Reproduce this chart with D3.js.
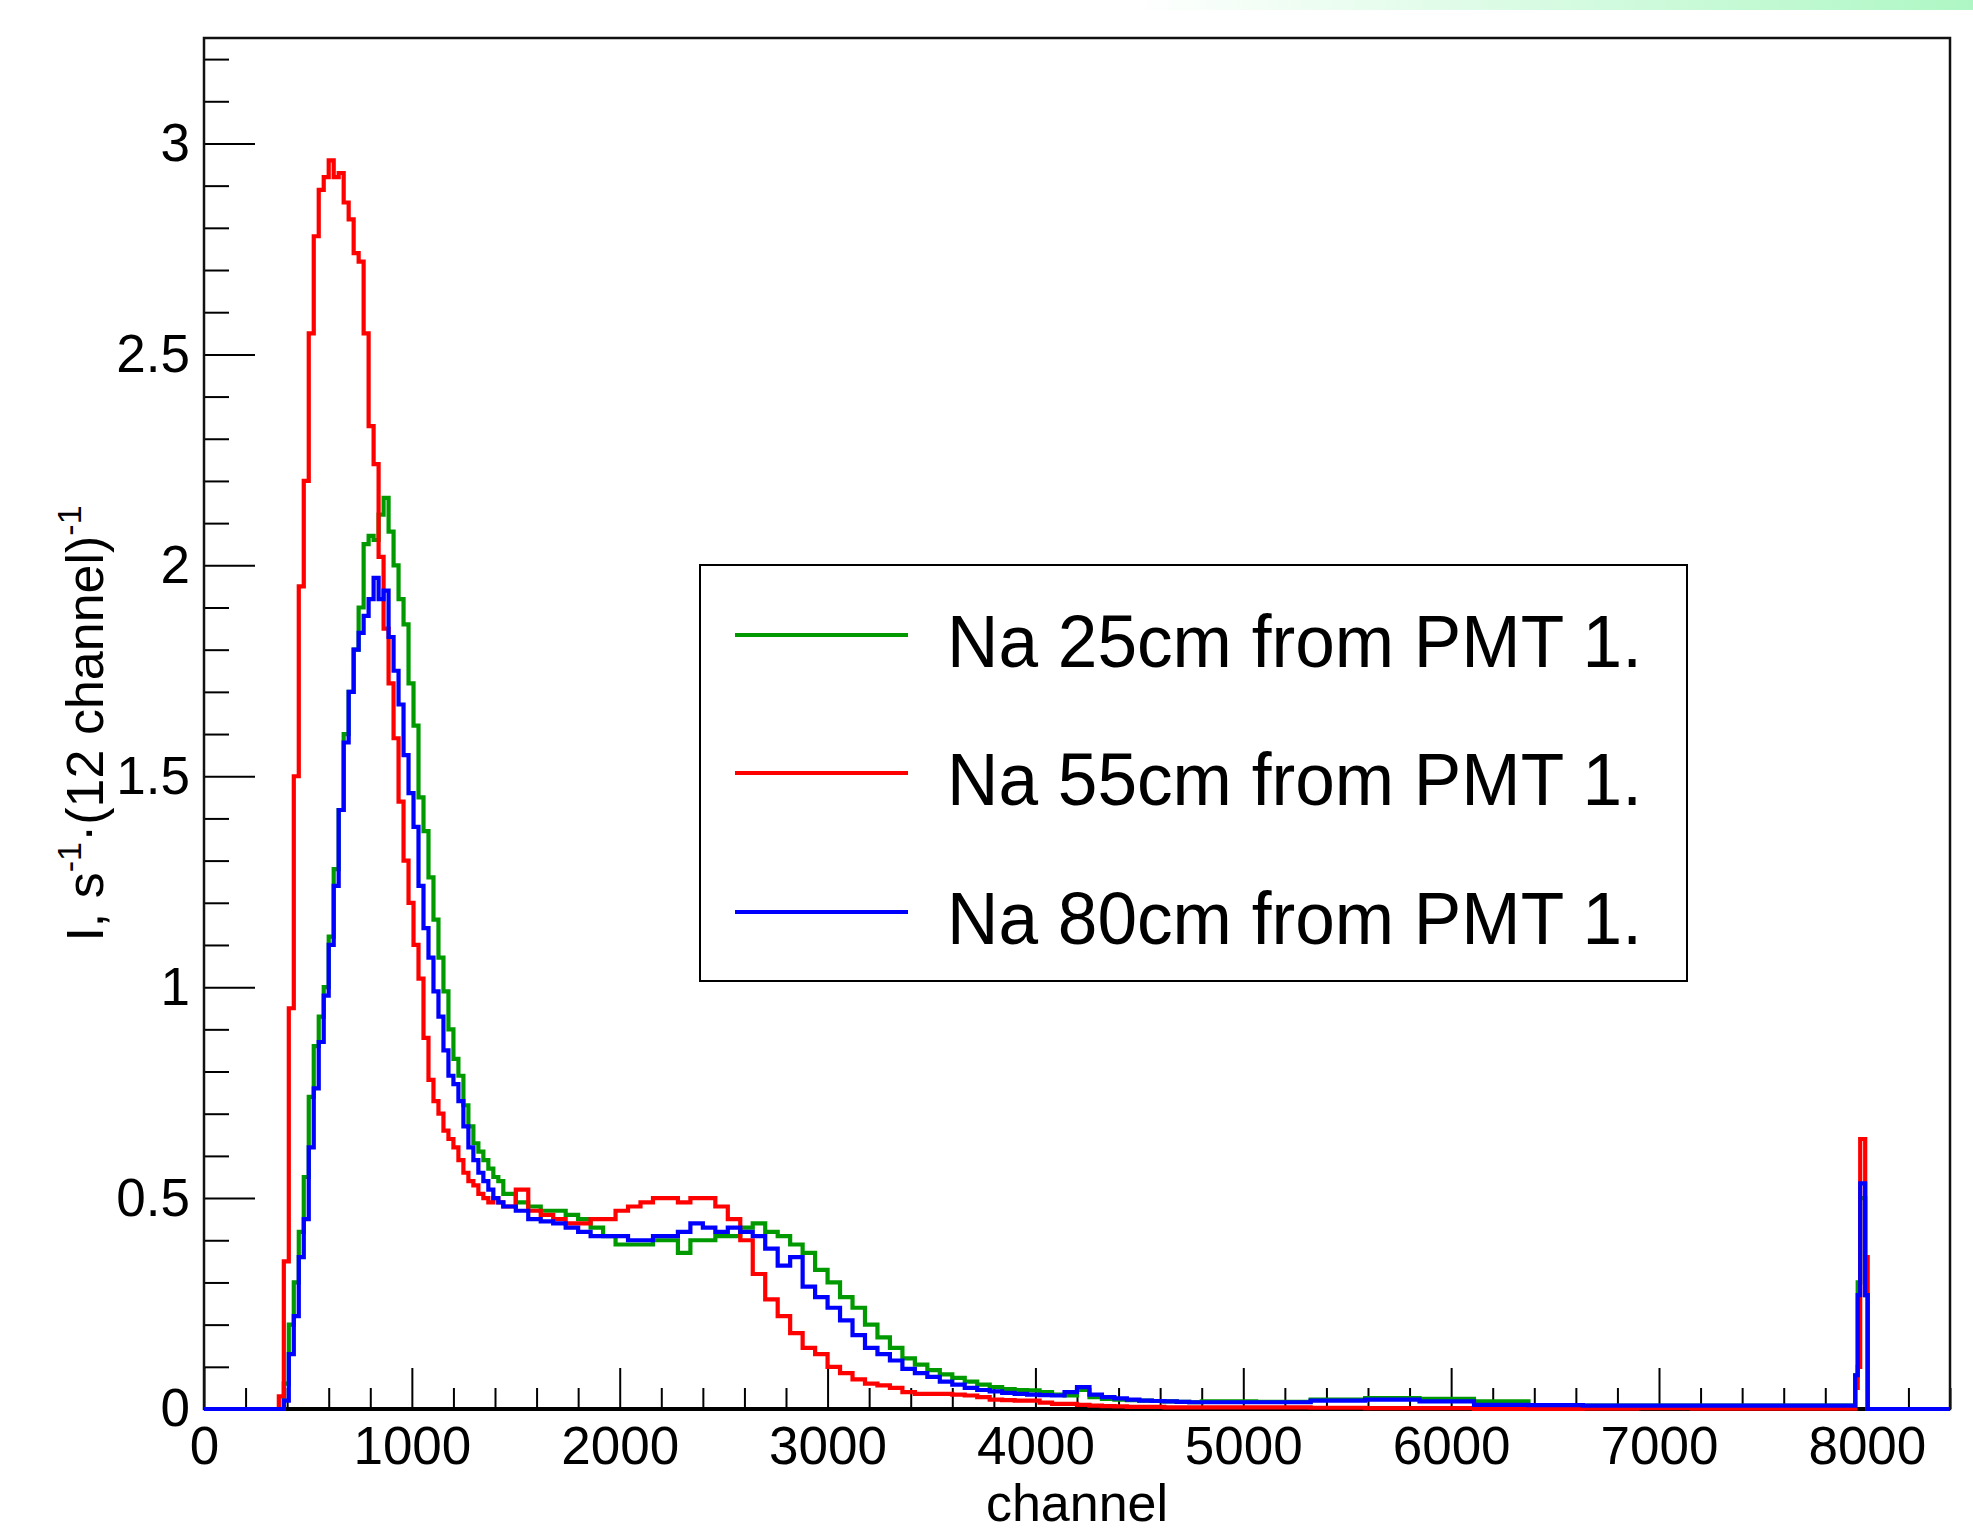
<!DOCTYPE html>
<html><head><meta charset="utf-8">
<script src="https://cdn.jsdelivr.net/npm/d3@7"></script>
<style>
html,body{margin:0;padding:0;background:#fff;}
svg{display:block;}
text{font-family:"Liberation Sans",Arial,Helvetica,sans-serif;}
</style>
</head><body>
<svg id="c" width="1973" height="1531"></svg>
<script>
// ---- DATA ----
// histogram bin layout: [start channel, end channel, bin width]
const binSegments = [[0,360,360],[360,1440,24],[1440,4800,60],[4800,7944,262],[7944,8016,12],[8016,8400,384]];

const seriesNames = ["Na 25cm from PMT 1.","Na 55cm from PMT 1.","Na 80cm from PMT 1."];
const seriesColors = ["#009a00","#ff0000","#0000ff"];

// values per bin (I, s^-1 (12 channel)^-1)
const green = [0,
 0,0.06,0.2,0.3,0.42,0.55,0.74,0.86,0.93,1.0,1.12,1.28,1.42,1.6,1.7,1.8,1.9,2.05,2.07,2.06,2.12,2.16,2.08,2.0,1.92,1.86,1.72,1.62,1.45,1.37,1.26,1.16,1.07,0.99,0.9,0.83,0.79,0.72,0.67,0.63,0.61,0.59,0.57,0.55,0.54,
 0.51,0.49,0.48,0.47,0.47,0.46,0.45,0.43,0.41,0.39, 0.39,0.39,0.40,0.40,0.37,0.40,0.40,0.41,0.41,0.43, 0.44,0.42,0.41,0.39,0.37,0.33,0.30,0.265,0.24,0.20, 0.17,0.145,0.12,0.105,0.092,0.082,0.074,0.065,0.058,0.052, 0.047,0.045,0.044,0.04,0.034,0.032,0.045,0.028,0.024,0.022, 0.021,0.02,0.019,0.018,0.017,0.016,
 0.018,0.017,0.022,0.026,0.024,0.018,0.009,0.008,0.008,0.008,0.008,0.008,
 0.08,0.30,0.50,0.50,0.27,0,
 0];
const red = [0,
 0.03,0.35,0.95,1.5,1.95,2.2,2.55,2.78,2.89,2.92,2.96,2.92,2.93,2.86,2.82,2.74,2.72,2.55,2.33,2.24,2.02,1.85,1.72,1.59,1.44,1.30,1.20,1.10,1.02,0.88,0.78,0.73,0.70,0.66,0.64,0.62,0.59,0.56,0.54,0.53,0.51,0.50,0.49,0.50,0.49,
 0.48,0.52,0.47,0.46,0.45,0.44,0.44,0.45,0.45,0.47, 0.48,0.49,0.50,0.50,0.49,0.50,0.50,0.48,0.45,0.40, 0.32,0.26,0.22,0.18,0.145,0.13,0.10,0.085,0.07,0.06, 0.056,0.05,0.04,0.036,0.036,0.036,0.034,0.032,0.028,0.022, 0.021,0.02,0.02,0.015,0.012,0.012,0.01,0.008,0.007,0.006, 0.005,0.005,0.005,0.004,0.004,0.004,
 0.004,0.004,0.003,0.002,0.002,0,0,0.001,0.002,0.001,0.001,0.001,
 0.05,0.10,0.64,0.64,0.36,0,
 0];
const blue = [0,
 0,0.02,0.13,0.22,0.36,0.45,0.62,0.76,0.87,0.98,1.10,1.24,1.42,1.58,1.70,1.80,1.84,1.88,1.92,1.97,1.92,1.94,1.83,1.75,1.67,1.55,1.46,1.38,1.24,1.14,1.07,0.99,0.93,0.85,0.79,0.77,0.73,0.67,0.62,0.59,0.56,0.54,0.52,0.50,0.49,
 0.48,0.47,0.45,0.445,0.44,0.43,0.42,0.41,0.41,0.41, 0.40,0.40,0.41,0.41,0.42,0.44,0.43,0.42,0.43,0.42, 0.41,0.38,0.34,0.36,0.29,0.265,0.24,0.21,0.175,0.145, 0.13,0.115,0.095,0.085,0.076,0.065,0.058,0.05,0.045,0.042, 0.038,0.036,0.034,0.033,0.032,0.04,0.052,0.034,0.028,0.025, 0.022,0.02,0.019,0.018,0.017,0.016,
 0.016,0.016,0.02,0.022,0.018,0.01,0.009,0.008,0.008,0.008,0.008,0.008,
 0.08,0.27,0.535,0.535,0.27,0,
 0];

const xTickValues = [0,1000,2000,3000,4000,5000,6000,7000,8000];
const xTickLabels = ["0","1000","2000","3000","4000","5000","6000","7000","8000"];
const yTickValues = [0,0.5,1,1.5,2,2.5,3];
const yTickLabels = ["0","0.5","1","1.5","2","2.5","3"];
const xDomain = [0,8400];
const yDomain = [0,3.25];

// ---- LAYOUT ----
const L=204, R=1950, T=38, B=1409;
const svg = d3.select("#c");

// top gradient strip
const defs = svg.append("defs");
const grad = defs.append("linearGradient").attr("id","topg").attr("x1","0").attr("x2","1").attr("y1","0").attr("y2","0");
grad.append("stop").attr("offset","0").attr("stop-color","#ffffff");
grad.append("stop").attr("offset","1").attr("stop-color","#aef7c4");
svg.append("rect").attr("x",1130).attr("y",0).attr("width",843).attr("height",10).attr("fill","url(#topg)");

defs.append("clipPath").attr("id","clip").append("rect").attr("x",L).attr("y",T).attr("width",R-L).attr("height",B-T+6);

const x = d3.scaleLinear().domain(xDomain).range([L,R]);
const y = d3.scaleLinear().domain(yDomain).range([B,T]);

// edges
let edges=[];
binSegments.forEach(s=>{ edges = edges.concat(d3.range(s[0],s[1],s[2])); });
edges.push(xDomain[1]);

// minor ticks
const yMinor = d3.range(0,3.25,0.1).filter(v=>Math.abs(v*2-Math.round(v*2))>1e-6);
const xMinor = d3.range(0,8401,200).filter(v=>v%1000!==0);

const fontTick = 53;

// y axis
const gyMinor = svg.append("g").attr("transform",`translate(${L},0)`)
  .call(d3.axisLeft(y).tickValues(yMinor).tickSize(-25).tickFormat(""));
const gy = svg.append("g").attr("transform",`translate(${L},0)`)
  .call(d3.axisLeft(y).tickValues(yTickValues).tickSize(-51).tickPadding(14).tickFormat((d,i)=>yTickLabels[i]));
// x axis
const gxMinor = svg.append("g").attr("transform",`translate(0,${B})`)
  .call(d3.axisBottom(x).tickValues(xMinor).tickSize(-21).tickFormat(""));
const gx = svg.append("g").attr("transform",`translate(0,${B})`)
  .call(d3.axisBottom(x).tickValues(xTickValues).tickSize(-41).tickPadding(17).tickFormat((d,i)=>xTickLabels[i]));

[gyMinor,gy,gxMinor,gx].forEach(g=>{
  g.select(".domain").remove();
  g.attr("color","#000").attr("font-family",null);
  g.selectAll("line").attr("stroke-width",2);
  g.selectAll("text").attr("font-size",fontTick).attr("font-family",'"Liberation Sans",Arial,Helvetica,sans-serif').attr("fill","#000");
});

// frame
svg.append("rect").attr("x",L).attr("y",T).attr("width",R-L).attr("height",B-T)
  .attr("fill","none").attr("stroke","#111").attr("stroke-width",2.5);
svg.append("line").attr("x1",L).attr("x2",R).attr("y1",B).attr("y2",B).attr("stroke","#000").attr("stroke-width",4);

// histograms
const line = d3.line().x(d=>x(d[0])).y(d=>y(d[1])).curve(d3.curveStepAfter);
const plot = svg.append("g").attr("clip-path","url(#clip)");
[green,red,blue].forEach((vals,si)=>{
  const pts = vals.map((v,i)=>[edges[i],v]);
  pts.push([edges[edges.length-1], vals[vals.length-1]]);
  plot.append("path").attr("d",line(pts)).attr("fill","none")
    .attr("stroke",seriesColors[si]).attr("stroke-width",4.2).attr("stroke-linejoin","miter");
});

// axis titles
svg.append("text").attr("x",(L+R)/2).attr("y",1521).attr("text-anchor","middle")
  .attr("font-size",52).attr("fill","#000").text("channel");
const yt = svg.append("text").attr("transform",`translate(103,${(T+B)/2}) rotate(-90)`)
  .attr("text-anchor","middle").attr("font-size",52).attr("fill","#000");
yt.append("tspan").text("I, s");
yt.append("tspan").attr("font-size",34).attr("dy",-22).text("-1");
yt.append("tspan").attr("dy",22).text("·(12 channel)");
yt.append("tspan").attr("font-size",34).attr("dy",-22).text("-1");

// legend
const lg = svg.append("g");
lg.append("rect").attr("x",700).attr("y",565).attr("width",987).attr("height",416)
  .attr("fill","#fff").attr("stroke","#000").attr("stroke-width",2);
const legY = [635,773,912];
seriesNames.forEach((n,i)=>{
  lg.append("line").attr("x1",735).attr("x2",908).attr("y1",legY[i]).attr("y2",legY[i])
    .attr("stroke",seriesColors[i]).attr("stroke-width",4);
  lg.append("text").attr("x",947).attr("y",legY[i]+32).attr("font-size",74)
    .attr("textLength",695).attr("lengthAdjust","spacingAndGlyphs").attr("fill","#000").text(n);
});
</script>
</body></html>
